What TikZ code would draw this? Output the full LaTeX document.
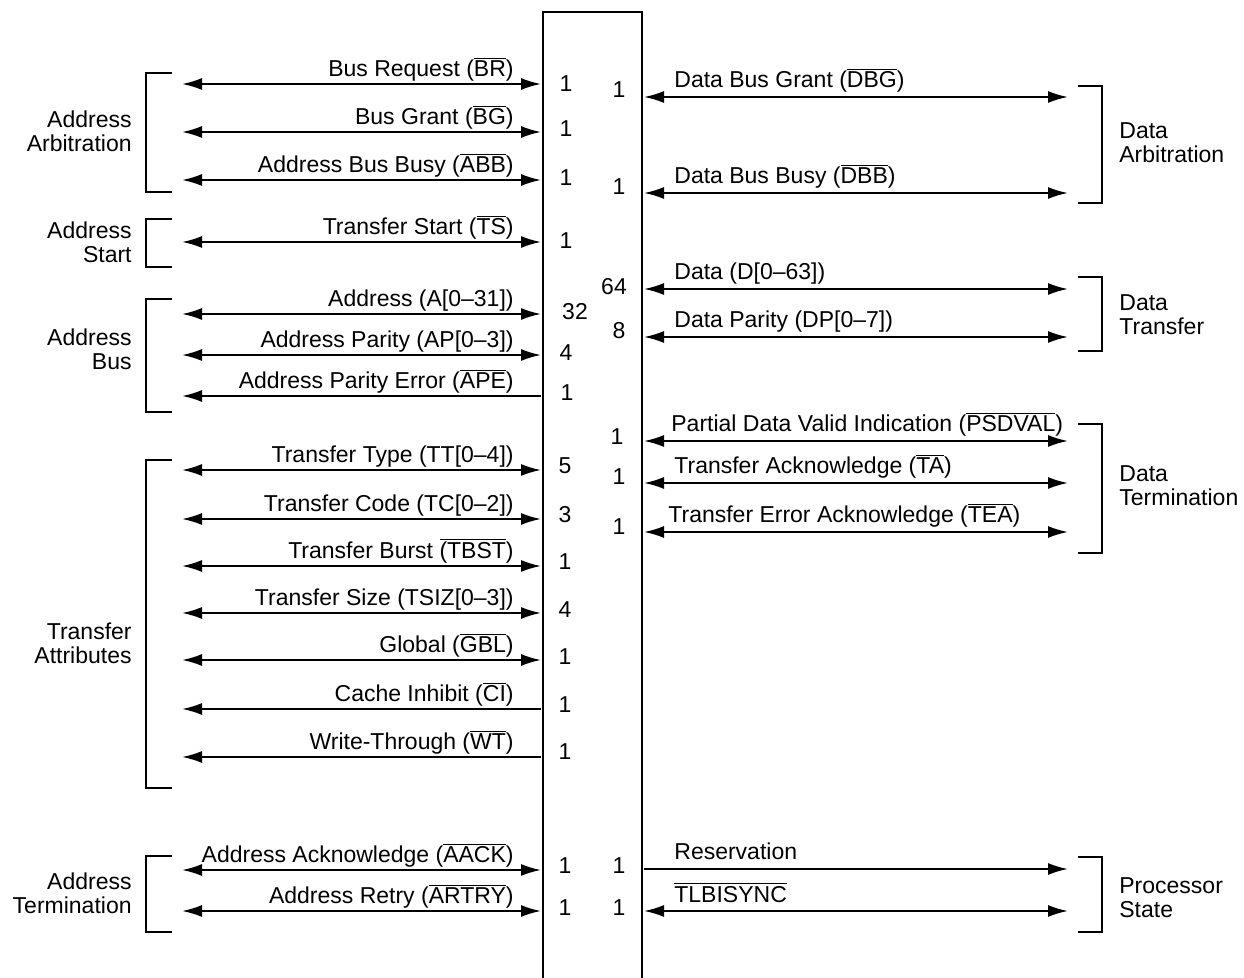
\documentclass[tikz,border=0pt]{standalone}
\usepackage{fontspec}
\setmainfont{Liberation Sans}
\usetikzlibrary{arrows.meta}
\newcommand{\ovl}[1]{$\overline{\hbox{#1}}$}
\begin{document}
\begin{tikzpicture}[
		x=0.5pt, y=-0.5pt,
		>={Latex[length=10pt,width=6pt]},
		every node/.style={inner sep=0pt, font=\fontsize{11.5}{12}\selectfont},
		sig/.style={line width=1pt},
		bidir/.style={sig, <->},
		inward/.style={sig, <-},
		outward/.style={sig, ->},
		brk/.style={line width=1pt},
		grp/.style={align=left}
	]
	\useasboundingbox (0,0) rectangle (1244,978);
	% processor box, open at the bottom
	\coordinate (boxBL) at (543,978);
	\coordinate (boxTL) at (543,12);
	\coordinate (boxTR) at (642,12);
	\coordinate (boxBR) at (642,978);
	\draw[line width=1pt] (boxBL) -- (boxTL) -- (boxTR) -- (boxBR);
	% address side signals
	\foreach \y/\txt/\n/\nx/\ny/\kind [count=\i] in {
			84/{Bus Request (\ovl{BR})}/1/566/84/bidir,
			132/{Bus Grant (\ovl{BG})}/1/566/129/bidir,
			180/{Address Bus Busy (\ovl{ABB})}/1/566/178/bidir,
			242/{Transfer Start (\ovl{TS})}/1/566/241/bidir,
			314/{Address (A[0--31])}/32/575/312/bidir,
			355/{Address Parity (AP[0--3])}/4/566/353/bidir,
			396/{Address Parity Error (\ovl{APE})}/1/567/393/inward,
			470/{Transfer Type (TT[0--4])}/5/565/466/bidir,
			519/{Transfer Code (TC[0--2])}/3/565/515/bidir,
			566/{Transfer Burst \ovl{(TBST})}/1/565/562/bidir,
			613/{Transfer Size (TSIZ[0--3])}/4/565/610/bidir,
			660/{Global (\ovl{GBL})}/1/565/657/bidir,
			709/{Cache Inhibit (\ovl{CI})}/1/565/705/inward,
			757/{Write-Through (\ovl{WT})}/1/565/752/inward,
			870/{Address Acknowledge (\ovl{AACK})}/1/565/866/bidir,
			911/{Address Retry (\ovl{ARTRY})}/1/565/908/bidir}{
		\coordinate (al\i) at (182,\y);
		\coordinate (ab\i) at (541,\y);
		\draw[\kind] (al\i) -- (ab\i);
		\node[anchor=base east] (at\i) at (514,\y-7) {\txt};
		\node (an\i) at (\nx,\ny) {\n};
	}
	% data side signals
	\foreach \y/\txt/\tx/\n/\nx/\ny/\kind [count=\i] in {
			97/{Data Bus Grant (\ovl{DBG})}/674/1/619/90/bidir,
			193/{Data Bus Busy (\ovl{DBB})}/674/1/619/187/bidir,
			289/{Data (D[0--63])}/674/64/614/287/bidir,
			337/{Data Parity (DP[0--7])}/674/8/619/331/bidir,
			441/{Partial Data Valid Indication (\ovl{PSDVAL})}/671/1/617/437/bidir,
			483/{Transfer Acknowledge (\ovl{TA})}/674/1/619/477/bidir,
			532/{Transfer Error Acknowledge (\ovl{TEA})}/668/1/619/527/bidir,
			869/{Reservation}/674/1/619/866/outward,
			911/{\ovl{TLBISYNC}}/674/1/619/908/bidir}{
		\coordinate (db\i) at (644,\y);
		\coordinate (dr\i) at (1068,\y);
		\draw[\kind] (db\i) -- (dr\i);
		\node[anchor=base west] (dt\i) at (\tx,\y-9) {\txt};
		\node (dn\i) at (\nx,\ny) {\n};
	}
	% left groups
	\foreach \top/\bot/\mid/\txt in {
			73/192/131/{Address\\Arbitration},
			219/267/242/{Address\\Start},
			299/412/349/{Address\\Bus},
			460/788/643/{Transfer\\Attributes},
			856/932/893/{Address\\Termination}}{
		\draw[brk] (172,\top) -- (146,\top) -- (146,\bot) -- (172,\bot);
		\node[align=right, anchor=east] at (132,\mid) {\txt};
	}
	% right groups
	\foreach \top/\bot/\mid/\txt in {
			86/203/143/{Data\\Arbitration},
			277/351/315/{Data\\Transfer},
			424/553/486/{Data\\Termination},
			857/932/898/{Processor\\State}}{
		\draw[brk] (1078,\top) -- (1102,\top) -- (1102,\bot) -- (1078,\bot);
		\node[grp, anchor=west] at (1119,\mid) {\txt};
	}
\end{tikzpicture}
\end{document}
